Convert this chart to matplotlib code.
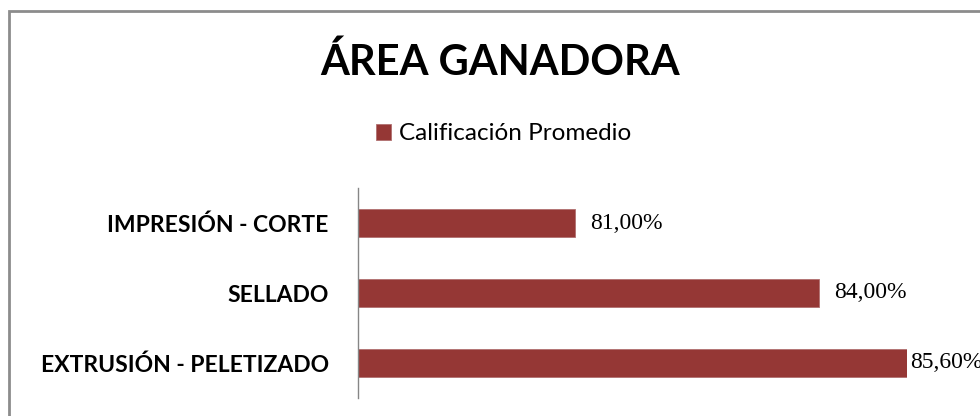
import matplotlib
matplotlib.use("Agg")
import matplotlib.pyplot as plt
from matplotlib.patches import Rectangle

categorias = ["EXTRUSIÓN - PELETIZADO", "SELLADO", "IMPRESIÓN - CORTE"]
calificacion = [85.6, 84.0, 81.0]
etiquetas = ["85,60%", "84,00%", "81,00%"]
serie = "Calificación Promedio"
titulo = "ÁREA GANADORA"

color_barra = "#953735"
xmin, xmax = 78.33, 85.08

fig = plt.figure(figsize=(9.8, 4.16), dpi=100)
ax = fig.add_axes([358 / 980, 18 / 416, 549 / 980, 210 / 416])

ypos = list(range(len(categorias)))
ax.barh(ypos, calificacion, height=0.4, color=color_barra,
        edgecolor="#b07070", linewidth=0.6, label=serie)
ax.set_xlim(xmin, xmax)
ax.set_ylim(-0.5, 2.5)
ax.set_yticks(ypos)
ax.set_yticklabels(categorias, fontfamily="Lato", fontweight="bold",
                   fontsize=16.5, color="black")
ax.tick_params(axis="y", length=0, pad=21)
ax.set_xticks([])
for s in ["top", "right", "bottom"]:
    ax.spines[s].set_visible(False)
ax.spines["left"].set_color("#868686")
ax.spines["left"].set_linewidth(1)

for y, v, t in zip(ypos, calificacion, etiquetas):
    off = 15 if v <= xmax else 3
    ax.annotate(t, (min(v, xmax), y), xytext=(off * 0.72, 0),
                textcoords="offset points", va="center", ha="left",
                fontfamily="Liberation Serif", fontsize=17,
                color="black", clip_on=False, annotation_clip=False)

fig.text(500 / 980, 1 - 62 / 416, titulo, ha="center", va="center",
         fontfamily="Lato", fontweight="bold", fontsize=30)

leg = fig.legend(loc="center", bbox_to_anchor=(504 / 980, 1 - 134 / 416),
                 frameon=False, prop={"family": "Lato", "size": 17.5},
                 handlelength=0.6, handleheight=0.6, handletextpad=0.35)

fig.patches.append(Rectangle((9 / 980, -0.1), 1.2, 1 - 10.5 / 416 + 0.1,
                             transform=fig.transFigure, fill=False,
                             edgecolor="#8c8c8c", linewidth=2))

fig.savefig("out.png", dpi=100)
